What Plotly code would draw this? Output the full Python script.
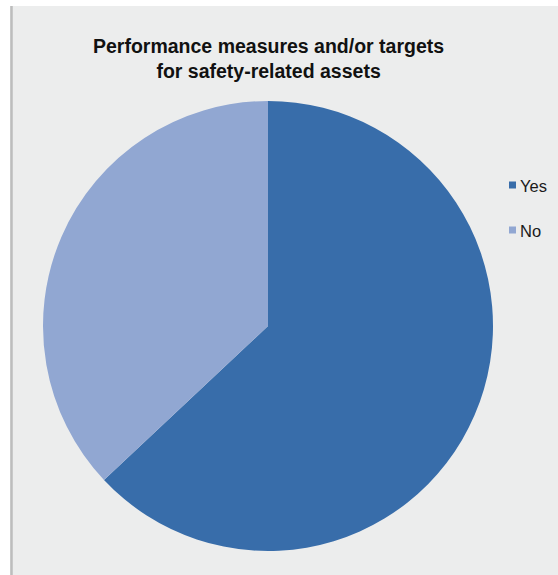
import plotly.graph_objects as go

W, H = 558, 575

labels = ["Yes", "No"]
values = [63, 37]
colors = ["#386DAA", "#91A7D2"]
title_lines = ["Performance measures and/or targets", "for safety-related assets"]

fig = go.Figure()
fig.add_trace(go.Pie(
    labels=labels, values=values,
    marker=dict(colors=colors, line=dict(width=0)),
    sort=False, direction="clockwise", rotation=0,
    textinfo="none", hoverinfo="label+percent",
    domain=dict(x=[43 / W, 493 / W], y=[1 - 551 / H, 1 - 101 / H]),
    showlegend=False,
))

def px(x):
    return x / W

def py(y):
    return 1 - y / H

shapes = [
    dict(type="rect", xref="paper", yref="paper", x0=0, x1=px(10), y0=0, y1=1,
         fillcolor="white", line=dict(width=0), layer="above"),
    dict(type="rect", xref="paper", yref="paper", x0=0, x1=1, y0=py(6), y1=1,
         fillcolor="white", line=dict(width=0), layer="above"),
    dict(type="line", xref="paper", yref="paper", x0=px(11.5), x1=px(11.5), y0=0, y1=py(6),
         line=dict(color="#BDBDBD", width=2.5), layer="above"),
]

annotations = [
    dict(text="<b>" + "<br>".join(title_lines) + "</b>", xref="paper", yref="paper",
         x=px(268), y=py(59), xanchor="center", yanchor="middle", showarrow=False,
         font=dict(family="Liberation Sans, Arial", size=19.5, color="#111111")),
]

# legend
leg_y = [185, 230]
for lab, col, yy in zip(labels, colors, leg_y):
    shapes.append(dict(type="rect", xref="paper", yref="paper",
                       x0=px(509), x1=px(516), y0=py(yy + 3.5), y1=py(yy - 3.5),
                       fillcolor=col, line=dict(width=0)))
    annotations.append(dict(text=lab, xref="paper", yref="paper", x=px(518), y=py(yy + 1),
                            xanchor="left", yanchor="middle", showarrow=False,
                            font=dict(family="Liberation Sans, Arial", size=16.5, color="#1a1a1a")))

fig.update_layout(
    width=W, height=H,
    margin=dict(l=0, r=0, t=0, b=0),
    paper_bgcolor="#ECEDED", plot_bgcolor="#ECEDED",
    shapes=shapes, annotations=annotations,
    showlegend=False,
)

fig.write_html("out.html", config={"displayModeBar": False},
               post_script="document.body.style.margin='0';document.body.style.overflow='hidden';")
